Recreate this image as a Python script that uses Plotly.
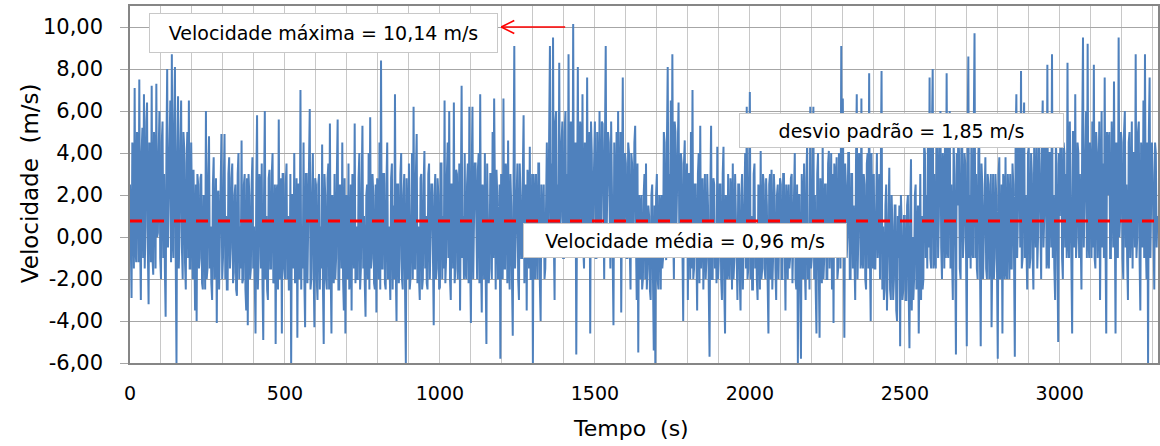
import plotly.graph_objects as go

# ---------------- data ----------------
passo_s = 2.5

velocidade = [
    # 0-97.5 s
    2.5, -1.0, -2.9, 4.5, 3.8, -1.5, 7.1, -0.5, -1.2, 5.0, 4.5, -1.2, 7.5, 0.0, -3.0, 4.0, 5.2, -1.0, 6.8, -1.5,
    0.5, 5.5, 6.4, -0.5, -3.2, 4.5, 4.2, -1.2, 7.2, -1.0, -1.8, 5.0, 3.5, -1.5, 7.3, 0.0, 0.2, 4.0, 6.0, -1.0,
    # 100-197.5
    -2.0, 4.5, 5.5, -1.0, 3.0, -1.5, -3.8, 4.0, 8.0, -0.5, 1.5, 5.0, 6.5, -1.2, 8.7, 0.0, -1.0, 5.5, 8.1, -1.0,
    -6.0, 4.0, 6.7, -1.5, 0.5, 4.5, 6.5, -0.5, -2.0, 5.0, 4.2, -1.2, -2.5, 3.5, 5.0, -1.0, 6.5, -1.5, -1.5, 4.5,
    # 200-297.5
    1.0, -2.0, 3.2, -2.5, -3.5, 2.5, -4.0, 3.0, 2.5, -1.5, -1.0, 2.8, 3.0, -2.2, -2.5, 2.0, 1.8, -2.5, 6.0, -2.0,
    -1.5, 3.0, 4.8, -1.5, 0.5, -2.2, -3.0, 2.5, 3.8, -2.0, -0.5, 2.8, -4.1, 2.0, 2.2, -2.5, 0.0, 3.0, 4.9, -2.0,
    # 300-397.5
    -1.0, 2.5, 4.9, -2.0, 1.0, -2.5, -2.5, 3.0, 3.8, -1.5, -0.5, 2.8, 3.5, -2.2, -1.7, 2.0, 2.5, -2.5, -2.8, 3.0,
    4.0, -2.0, 0.5, -1.5, 4.6, -2.2, -2.0, 2.5, 3.0, -2.5, -3.5, 2.8, -4.2, 3.0, 2.0, -2.0, -1.5, 2.5, 3.8, -1.5,
    # 400-497.5
    0.5, -2.0, -4.6, 2.5, 5.8, -2.5, -1.0, 3.0, 2.5, -1.5, 3.5, -2.2, -4.9, 2.0, 6.0, -2.0, 1.0, -2.5, -3.0, 2.8,
    3.2, -1.5, -1.5, 3.0, 4.0, -2.2, -2.0, 2.5, -5.1, 2.0, 2.5, -2.5, 5.6, -2.0, -1.0, 2.8, -4.6, 3.0, 3.0, -1.5,
    # 500-597.5
    -2.0, 2.5, 3.5, -2.0, 1.0, -2.5, -2.5, 3.0, -6.1, 2.0, 2.0, -1.5, 4.0, -2.2, -1.5, 2.8, -4.8, 2.5, 2.5, -2.0,
    7.0, -2.5, 0.5, -1.5, 4.5, -2.0, -4.3, 3.0, 3.0, -2.2, 0.0, 2.5, 6.1, -2.5, -2.0, 2.0, 4.0, -1.5, -4.3, 2.8,
    # 600-697.5
    2.5, -2.0, -3.0, 2.5, 3.0, -2.5, 0.5, -1.5, 4.4, -2.2, -5.1, 3.0, 2.0, -2.0, -2.5, 2.8, 3.5, -2.5, 5.4, -1.5,
    -4.6, 2.0, 1.5, -2.2, 3.0, -2.0, -1.0, 3.0, 5.6, -2.5, -2.5, 2.5, 2.0, -1.5, 4.5, -2.0, -3.5, 2.8, -4.6, 2.0,
    # 700-797.5
    1.5, -2.0, 3.5, -2.5, -2.0, 2.5, -3.5, 3.0, 2.0, -1.5, 5.4, -2.2, 0.5, -2.0, -2.0, 2.8, 4.0, -2.5, -1.5, 2.5,
    5.3, -1.5, 1.0, -2.2, -3.8, 2.0, 2.5, -2.0, 4.0, -2.5, 5.7, -1.5, -1.0, 3.0, 2.0, -2.2, -2.5, 2.5, -3.6, 2.8,
    # 800-897.5
    2.0, -2.0, 4.5, -2.5, 8.4, -1.5, -1.5, 3.0, 3.0, -2.2, -2.5, 2.5, 4.5, -2.0, 0.5, -1.5, -3.0, 2.8, 3.5, -2.5,
    1.5, -2.0, 6.8, -1.5, -4.0, 2.5, 2.5, -2.2, -1.0, 3.0, 4.0, -2.0, -2.5, 2.0, 3.0, -2.5, -6.0, 2.8, 1.0, -2.0,
    # 900-997.5
    3.5, -2.5, -2.0, 2.5, 4.0, -2.0, 6.2, -1.5, -1.5, 3.0, 4.9, -2.2, 0.5, -2.0, -3.0, 2.8, 3.0, -2.5, -2.0, 2.5,
    4.1, -1.5, 1.0, -2.2, -2.5, 3.0, 3.5, -2.0, 0.0, 2.5, 2.5, -2.5, -4.2, 2.0, 3.0, -2.0, -1.5, 2.8, 2.0, -2.5,
    # 1000-1097.5
    -2.4, 3.5, 3.5, -2.0, 1.0, -1.5, 6.5, -2.2, -1.0, 3.0, 4.5, -1.0, 6.0, -2.0, -3.0, 2.5, 2.5, -1.5, 6.4, -2.2,
    -1.5, 3.2, 3.0, -2.0, 0.5, 3.5, -3.5, 3.0, 7.2, -1.0, 1.0, -2.0, 4.0, -1.5, -2.0, 2.5, 3.5, -2.2, 6.2, -1.0,
    # 1100-1197.5
    -4.1, 3.0, 6.2, -2.0, 0.5, 3.5, 3.5, -1.5, -2.0, 3.2, 4.0, -2.2, 6.8, -1.0, -3.6, 2.5, 2.0, -2.0, 4.0, -1.5,
    -5.1, 3.5, 1.5, -2.2, -1.5, 3.0, 3.0, -2.0, 5.0, -1.0, 6.6, -1.5, -2.5, 3.2, 2.0, -2.0, -1.0, 2.5, -5.8, 3.0,
    # 1200-1297.5
    2.5, -2.0, 6.6, -1.5, -1.5, 3.5, 3.0, -2.2, 4.6, -1.0, -2.5, 3.0, 1.5, -2.0, -4.7, 2.5, 9.1, -1.5, 0.5, 3.2,
    3.5, -2.0, -3.0, 3.5, 2.0, -1.0, -1.0, 3.0, 5.8, -2.2, 0.5, 2.5, -3.5, 3.2, 2.5, -1.5, 4.3, -2.0, -2.0, 3.0,
    # 1300-1397.5
    -6.0, 3.0, 1.5, -2.0, 3.0, -1.5, -2.0, 3.5, 3.5, -2.2, -4.0, 2.5, 1.0, -1.0, 2.5, -2.0, -1.5, 3.2, 4.5, -1.0,
    0.0, 5.0, 9.1, -0.5, 3.5, -1.0, 9.5, 0.0, -3.0, 5.5, 6.0, -1.0, 2.5, -0.5, 8.3, 0.0, 1.0, 4.5, 5.5, -1.0,
    # 1400-1497.5
    -1.0, 5.0, 6.0, -0.5, 3.0, -1.0, 8.7, 0.0, -0.5, 5.5, 4.5, -1.0, 10.14, -0.5, 2.0, 4.5, -5.6, 5.0, 8.1, 0.0,
    0.5, 5.5, 5.0, -1.0, 6.8, -0.5, -1.5, 4.5, 3.5, -1.0, 7.6, 0.0, 0.5, 5.0, -4.6, 5.5, 4.0, -0.5, 2.0, 4.5,
    # 1500-1597.5
    5.5, -1.0, -1.0, 5.0, 3.0, -0.5, 6.0, 0.0, 0.5, 5.5, 5.4, -1.0, -2.0, 4.5, 9.1, -0.5, 2.0, 5.0, 4.5, -1.0,
    -1.5, 5.5, 3.0, 0.0, -4.2, 4.5, 2.5, -1.0, 5.0, -0.5, 6.0, -1.0, 0.5, 5.0, -3.6, 4.5, 7.6, 0.0, 1.0, 4.0,
    # 1600-1697.5
    3.5, -1.0, -1.0, 4.5, 4.0, -0.5, -2.5, 4.0, 3.5, -1.0, 0.5, 4.5, 5.3, 0.0, -3.0, 3.5, -5.5, 2.0, 1.5, -2.0,
    2.0, -2.5, -2.0, 2.0, 3.0, -2.0, 3.5, -2.5, -1.5, 1.5, 1.0, -2.5, -3.0, 2.0, 2.5, -2.0, -5.4, 1.5, -6.0, 2.0,
    # 1700-1797.5
    3.0, -2.0, -2.5, 2.0, 1.5, -2.5, 2.0, -1.5, -1.0, 5.0, 4.5, 0.0, -1.1, 4.5, 8.1, 0.5, 3.0, -0.5, 6.5, 0.0,
    8.7, 0.5, -2.0, 5.5, 5.0, 0.0, 2.0, 4.5, 6.4, -0.5, 0.5, 4.0, 3.5, -0.5, -4.0, 3.5, 4.6, -1.0, 1.0, 3.5,
    # 1800-1897.5
    -3.0, 3.0, 3.0, -2.0, 5.0, -1.5, 7.0, -2.0, -1.5, 2.5, 2.5, -2.5, -3.5, 3.0, 4.0, -2.2, 5.3, -1.5, 0.0, 2.8,
    -2.5, 2.5, 3.0, -2.0, -1.0, 3.0, 1.5, -2.5, -5.7, 2.0, 5.3, -2.0, -2.0, 2.8, 2.5, -1.5, 0.5, -2.2, 4.3, -2.0,
    # 1900-1997.5
    -1.0, 2.5, 2.5, -2.0, -3.0, 3.0, 4.3, -2.5, -4.6, 2.0, 1.5, -2.0, 3.0, -1.5, -2.0, 2.8, 2.0, -2.5, 3.5, -2.0,
    -1.0, 3.0, 1.0, -2.2, -3.0, 2.5, 2.5, -2.0, -3.5, 2.0, 3.0, -2.5, 0.0, 3.0, 4.0, -1.5, 6.2, -2.0, -1.5, 2.8,
    # 2000-2097.5
    6.9, -2.0, 1.0, -2.5, -2.5, 3.0, 3.5, -1.5, 0.5, -2.0, -3.0, 2.5, 2.0, -2.5, 4.1, -2.0, -1.5, 3.0, 2.5, -1.5,
    -2.0, 2.8, 1.5, -2.2, -4.6, 2.5, 3.0, -2.0, 3.2, -2.5, -1.0, 3.0, 2.0, -1.5, -3.0, 2.0, 2.5, -2.0, 0.0, 2.8,
    # 2100-2197.5
    2.5, -2.0, -2.0, 3.0, 3.0, -2.5, -3.5, 2.5, 1.5, -2.0, 2.5, -1.5, -1.0, 2.8, 3.0, -2.2, 0.0, 3.0, 4.0, -2.0,
    -2.5, 2.5, -6.0, 2.0, 2.0, -2.5, -5.8, 3.0, 1.5, -2.0, 3.5, -1.5, -3.0, 2.8, 4.5, -2.0, 0.5, -2.5, 6.2, -1.5,
    # 2200-2297.5
    -1.0, 2.5, 6.2, -2.0, 2.0, -2.5, -4.6, 3.0, 4.0, -1.5, -4.8, 2.8, 1.5, -2.2, 4.5, -2.0, -1.0, 2.5, 2.5, -2.0,
    -2.0, 3.5, 4.1, -1.5, 0.5, 4.0, -2.5, 3.0, -4.1, 3.5, 3.0, -1.0, 3.8, -2.0, -1.5, 4.0, 2.0, -1.5, 9.1, -1.0,
    # 2300-2397.5
    6.6, -1.5, -4.8, 3.5, 2.5, -1.0, 0.0, 4.0, 4.0, -2.0, -2.0, 3.0, 3.0, -1.5, 1.5, -1.0, -3.0, 3.5, 6.8, -2.0,
    0.0, 4.0, 3.5, -1.5, 6.6, -1.0, -1.5, 3.0, 2.5, -2.0, -2.5, 3.5, 4.0, -1.5, 7.8, -1.0, -4.0, 4.0, 2.0, -1.5,
    # 2400-2497.5
    3.0, -1.5, -1.5, 3.5, 4.0, -1.0, 1.0, 3.0, -2.0, 3.5, 7.9, -2.5, 0.5, -3.0, -2.5, 1.5, 2.5, -3.5, -1.0, 1.0,
    3.3, -2.5, -3.0, 2.0, 0.5, -3.0, -2.0, 1.5, 1.5, -3.5, -4.0, 1.0, -1.0, 1.5, -5.2, 2.0, 0.5, -3.0, -2.5, 1.0,
    # 2500-2597.5
    1.0, -3.0, -3.0, 1.5, 2.0, -2.5, -5.3, 1.0, 3.7, -3.5, 0.0, -3.0, -2.0, 2.0, 2.5, -2.5, -1.0, 1.5, -4.6, 1.0,
    3.0, -3.0, 1.0, -2.5, -2.0, 4.5, 4.0, -1.0, 2.0, -1.5, 5.5, -0.5, 7.6, -1.0, -1.5, 5.0, 8.0, -1.5, 3.0, -1.0,
    # 2600-2697.5
    -1.5, 4.5, 4.5, -1.0, 1.0, 5.0, 6.0, -0.5, -2.0, 4.0, 3.0, -1.5, 5.5, -1.0, 7.8, -0.5, -1.0, 5.0, 6.0, -1.5,
    2.5, -1.0, -3.0, 4.5, 3.0, -0.5, -5.6, 4.0, 1.5, 5.0, 4.0, -1.5, -2.0, 4.5, 5.0, -1.0, 0.0, 4.0, 3.5, -0.5,
    # 2700-2797.5
    -5.2, 4.5, 8.6, -1.0, 2.0, -1.5, 5.0, -0.5, -1.0, 5.0, 9.7, -1.0, 3.0, -1.5, -2.0, 4.0, 5.0, -1.0, -5.2, 3.5,
    2.5, -2.0, 0.0, 3.0, 3.8, -1.5, -2.0, 3.0, 2.5, -2.0, 1.0, 3.0, -4.3, 2.5, 3.0, -2.0, -1.0, 3.0, 2.0, -1.5,
    # 2800-2897.5
    -5.8, 3.0, 3.8, -2.0, -1.0, 2.5, -4.6, 3.0, 2.5, -2.0, 3.8, -1.5, -2.0, 3.0, 1.5, -2.0, 3.0, -1.5, -1.5, 3.5,
    2.5, -1.0, -5.7, 4.5, 6.8, -1.0, 1.0, 5.0, 4.5, -0.5, 7.9, -1.5, -1.0, 4.5, 6.4, -1.0, 2.0, -0.5, -2.5, 4.0,
    # 2900-2997.5
    4.3, -1.5, -1.0, 4.0, 3.0, -1.0, -2.5, 4.5, 2.0, -0.5, 4.5, -1.5, 0.0, 5.0, 3.5, -1.0, -2.0, 4.5, 6.5, -0.5,
    1.0, 5.0, 5.0, -1.5, 8.2, -1.0, -1.5, 4.0, 4.0, -0.5, 8.7, -1.0, 2.0, -1.5, -3.0, 4.5, 3.5, -1.0, -5.0, 4.0,
    # 3000-3097.5
    1.0, 5.0, 5.5, -1.0, -2.0, 4.5, 4.0, -0.5, 3.0, -1.0, 8.3, 0.0, -1.0, 5.5, 2.5, -1.0, -4.6, 5.0, 5.0, -0.5,
    6.8, -1.0, 0.0, 4.5, 4.0, -1.0, 3.0, 0.0, -2.5, 5.0, 9.5, -0.5, 2.0, 5.5, 6.0, -1.0, 9.2, 0.0, -1.0, 4.5,
    # 3100-3197.5
    3.0, -1.0, 5.5, -0.5, 8.2, -1.0, -1.5, 5.0, 4.0, -1.0, 2.0, 5.5, -3.0, 4.5, 6.0, -0.5, 3.5, -1.0, 7.6, 0.0,
    -4.6, 5.0, 2.0, 4.5, 5.0, -1.0, -1.0, 5.5, 3.0, -0.5, 7.4, -1.0, -4.6, 4.5, 3.5, -1.0, 9.5, 0.0, 1.0, 5.0,
    # 3200-3297.5
    4.5, -1.0, -2.0, 5.0, 6.0, -0.5, 2.5, -1.0, -3.0, 4.5, 5.0, -1.0, 1.0, 5.5, -1.5, 4.0, 4.0, -0.5, 8.7, -1.0,
    0.0, 5.0, 5.5, -1.0, -3.5, 4.5, 3.0, -0.5, 6.5, -1.0, 8.7, 0.0, -2.0, 4.5, -6.1, 5.0, 7.6, -1.0, 2.0, 4.5,
    # 3300-3315
    3.0, -1.0, -2.5, 4.5, 4.0, -0.5, 1.0,
]
tempo = [i * passo_s for i in range(len(velocidade))]

linha_media_y = 0.76          # where the dashed mean line is drawn in the picture
linha_media_x = [0, 3317]

x_ticks = [0, 500, 1000, 1500, 2000, 2500, 3000]
x_ticktext = ["0", "500", "1000", "1500", "2000", "2500", "3000"]
x_grid_minor = list(range(0, 3400, 100))
y_ticks = [-6, -4, -2, 0, 2, 4, 6, 8, 10]
y_ticktext = ["-6,00", "-4,00", "-2,00", "0,00", "2,00", "4,00", "6,00", "8,00", "10,00"]

txt_max = "Velocidade máxima = 10,14 m/s"
txt_desvio = "desvio padrão = 1,85 m/s"
txt_media = "Velocidade média = 0,96 m/s"
txt_x = "Tempo  (s)"
txt_y = "Velocidade  (m/s)"

# ---------------- figure ----------------
W, H = 1160, 446
L, R, T, B = 130, 0, 6, 83
PW, PH = W - L - R, H - T - B


def px(xp):
    return (xp - L) / PW


def py(yp):
    return (H - B - yp) / PH


FONT = "DejaVu Sans"

fig = go.Figure()
fig.add_trace(go.Scatter(
    x=tempo, y=velocidade, mode="lines",
    line=dict(color="#4F81BD", width=2.0),
    hoverinfo="skip", showlegend=False,
))
fig.add_trace(go.Scatter(
    x=linha_media_x, y=[linha_media_y, linha_media_y], mode="lines",
    line=dict(color="#FF0000", width=3, dash="12px,10px"),
    hoverinfo="skip", showlegend=False,
))

box = dict(bgcolor="white", bordercolor="#C8C8C8", borderwidth=1, borderpad=0,
           showarrow=False, xref="paper", yref="paper",
           xanchor="center", yanchor="middle",
           font=dict(family=FONT, size=19, color="black"))
plain = dict(xref="paper", yref="paper", showarrow=False,
             xanchor="center", yanchor="middle")
annots = [
    dict(text=txt_max, x=px(323.5), y=py(33), width=347, height=38, **box),
    dict(text=txt_desvio, x=px(903.5), y=py(130.5), width=323, height=33, **box),
    dict(text=txt_media, x=px(686), y=py(240.5), width=322, height=33, **box),
    dict(text=txt_x, x=px(632), y=py(428), font=dict(family=FONT, size=22, color="black"), **plain),
    dict(text=txt_y, x=px(30), y=py(183), textangle=-90,
         font=dict(family=FONT, size=23, color="black"), **plain),
]

red = dict(color="#FF0000", width=1.6)
shapes = [
    dict(type="line", xref="paper", yref="paper", x0=px(502), y0=py(27), x1=px(566), y1=py(27), line=red),
    dict(type="line", xref="paper", yref="paper", x0=px(502), y0=py(27), x1=px(515), y1=py(20.5), line=red),
    dict(type="line", xref="paper", yref="paper", x0=px(502), y0=py(27), x1=px(515), y1=py(33.5), line=red),
]

fig.update_layout(
    width=W, height=H,
    margin=dict(l=L, r=R, t=T, b=B, pad=0),
    paper_bgcolor="white", plot_bgcolor="white",
    showlegend=False,
    annotations=annots,
    shapes=shapes,
    font=dict(family=FONT, color="black"),
    xaxis=dict(
        range=[0, 3317], tickmode="array", tickvals=x_ticks, ticktext=x_ticktext,
        showgrid=True, gridcolor="#C8C8C8", gridwidth=1,
        minor=dict(tickmode="array", tickvals=x_grid_minor, showgrid=True,
                   gridcolor="#C8C8C8", gridwidth=1),
        showline=True, linecolor="#868686", linewidth=1.5, mirror=True,
        zeroline=False, ticks="", ticklabelstandoff=12,
        tickfont=dict(family=FONT, size=19, color="black"),
    ),
    yaxis=dict(
        range=[-6, 11], tickmode="array", tickvals=y_ticks, ticktext=y_ticktext,
        showgrid=True, gridcolor="#A6A6A6", gridwidth=1,
        showline=True, linecolor="#868686", linewidth=1.5, mirror=True,
        zeroline=False, ticks="outside", ticklen=8, tickcolor="#A6A6A6",
        ticklabelstandoff=13,
        tickfont=dict(family=FONT, size=21, color="black"),
    ),
)

fig.write_html("out.html")
